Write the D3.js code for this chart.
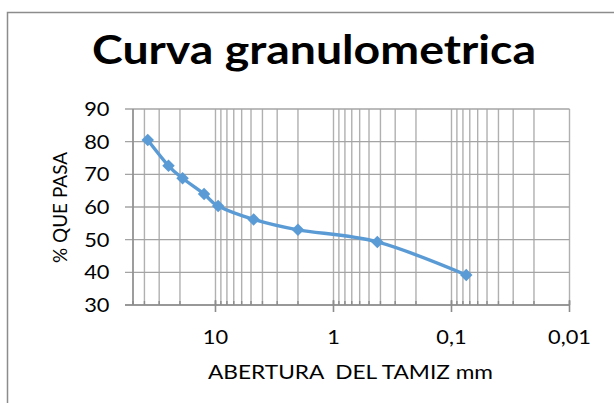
<!DOCTYPE html>
<html>
<head>
<meta charset="utf-8">
<script src="https://cdn.jsdelivr.net/npm/d3@7/dist/d3.min.js"></script>
<style>
  html, body { margin: 0; padding: 0; background: #fff; }
  svg { display: block; }
  text { font-family: Lato, "Open Sans", "DejaVu Sans", sans-serif; fill: #000; }
</style>
</head>
<body>
<svg id="chart" width="614" height="403"></svg>
<script>
// ---- data ----
const sieveSizes = [37.5, 25, 19, 12.5, 9.5, 4.75, 2, 0.425, 0.075];   // mm
const percentPassing = [80.5, 72.6, 68.8, 64.0, 60.3, 56.2, 53.0, 49.3, 39.2];
const xTickValues = [10, 1, 0.1, 0.01];
const xTickLabels = ["10", "1", "0,1", "0,01"];
const yTickValues = [30, 40, 50, 60, 70, 80, 90];
const titleText = "Curva granulometrica";
const xTitleText = "ABERTURA  DEL TAMIZ mm";
const yTitleText = "% QUE PASA";

// ---- layout ----
const svg = d3.select("#chart");
const pLeft = 133, pRight = 569.5, pTop = 109, pBottom = 305;
const x = d3.scaleLog().domain([50, 0.01]).range([pLeft, pRight]);
const y = d3.scaleLinear().domain([30, 90]).range([pBottom, pTop]);
const stretch = 1.18;

function stretchText(sel, k) {
  sel.each(function () {
    const w = this.getComputedTextLength();
    this.setAttribute("textLength", w * k);
    this.setAttribute("lengthAdjust", "spacingAndGlyphs");
  });
}

// frame
svg.append("path")
  .attr("d", "M7.5,403 V12.5 H614")
  .attr("fill", "none").attr("stroke", "#8c8c8c").attr("stroke-width", 1.5);

// title
svg.append("text")
  .attr("x", 314).attr("y", 63.5)
  .attr("text-anchor", "middle")
  .attr("font-weight", "bold").attr("font-size", 40)
  .attr("textLength", 444).attr("lengthAdjust", "spacingAndGlyphs")
  .text(titleText);

const g = svg.append("g");

// vertical gridlines (minor + major)
const gridVals = x.ticks();
g.selectAll("line.vgrid").data(gridVals).join("line")
  .attr("class", "vgrid")
  .attr("x1", d => x(d)).attr("x2", d => x(d))
  .attr("y1", pTop).attr("y2", pBottom)
  .attr("stroke", "#b0b0b0").attr("stroke-width", 1.4);

// horizontal gridlines (with outside tick extension)
g.selectAll("line.hgrid").data(yTickValues).join("line")
  .attr("class", "hgrid")
  .attr("x1", pLeft - 8).attr("x2", pRight)
  .attr("y1", d => y(d)).attr("y2", d => y(d))
  .attr("stroke", "#a4a4a4").attr("stroke-width", 1.4);

// axes lines
g.append("line").attr("x1", pLeft).attr("x2", pLeft).attr("y1", pTop).attr("y2", pBottom)
  .attr("stroke", "#8c8c8c").attr("stroke-width", 1.4);
g.append("line").attr("x1", pLeft - 8).attr("x2", pRight).attr("y1", pBottom).attr("y2", pBottom)
  .attr("stroke", "#8c8c8c").attr("stroke-width", 1.6);

// minor x ticks (inside)
g.selectAll("line.mtick").data(gridVals).join("line")
  .attr("class", "mtick")
  .attr("x1", d => x(d)).attr("x2", d => x(d))
  .attr("y1", pBottom - 4).attr("y2", pBottom)
  .attr("stroke", "#8c8c8c").attr("stroke-width", 1.4);

// major x ticks (cross)
g.selectAll("line.Mtick").data(xTickValues).join("line")
  .attr("class", "Mtick")
  .attr("x1", d => x(d)).attr("x2", d => x(d))
  .attr("y1", pBottom - 5).attr("y2", pBottom + 7)
  .attr("stroke", "#8c8c8c").attr("stroke-width", 1.6);

// y tick labels
g.selectAll("text.ylab").data(yTickValues).join("text")
  .attr("class", "ylab")
  .attr("x", 109.5).attr("y", d => y(d) + 7)
  .attr("text-anchor", "end").attr("font-size", 18.5)
  .text(d => d)
  .call(stretchText, stretch);

// x tick labels
g.selectAll("text.xlab").data(xTickValues).join("text")
  .attr("class", "xlab")
  .attr("x", d => x(d)).attr("y", 344)
  .attr("text-anchor", "middle").attr("font-size", 18.5)
  .text((d, i) => xTickLabels[i])
  .call(stretchText, stretch);

// axis titles
svg.append("text")
  .attr("x", 350.5).attr("y", 379)
  .attr("text-anchor", "middle").attr("font-size", 18.5)
  .attr("xml:space", "preserve").style("white-space", "pre")
  .attr("textLength", 285).attr("lengthAdjust", "spacingAndGlyphs")
  .text(xTitleText);

svg.append("text")
  .attr("transform", "translate(66.5,207.5) rotate(-90)")
  .attr("text-anchor", "middle").attr("font-size", 19.5)
  .attr("textLength", 111).attr("lengthAdjust", "spacingAndGlyphs")
  .text(yTitleText);

// data line
const pts = sieveSizes.map((s, i) => [s, percentPassing[i]]);
g.append("path")
  .datum(pts)
  .attr("fill", "none").attr("stroke", "#5b9bd5").attr("stroke-width", 3.4)
  .attr("stroke-linejoin", "round")
  .attr("d", d3.line().x(d => x(d[0])).y(d => y(d[1])).curve(d3.curveCardinal));

// diamond markers
const diamond = d3.symbol().type(d3.symbolSquare).size(78);
g.selectAll("path.mk").data(pts).join("path")
  .attr("class", "mk")
  .attr("transform", d => `translate(${x(d[0])},${y(d[1])}) rotate(45)`)
  .attr("d", diamond)
  .attr("fill", "#5b9bd5");
</script>
</body>
</html>
